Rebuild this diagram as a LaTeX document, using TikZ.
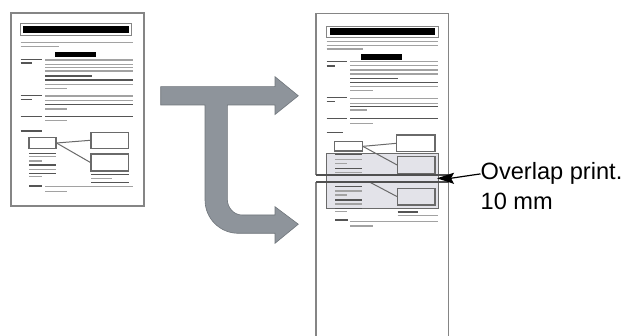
\documentclass[tikz,border=0pt]{standalone}
\usepackage{fontspec}
\setmainfont{Liberation Sans}
\usetikzlibrary{arrows.meta}
\definecolor{OPArrow}{HTML}{8E949B}
\definecolor{OPArrowEdge}{HTML}{6F757B}
\definecolor{OPSheet}{HTML}{858585}
\definecolor{OPCut}{HTML}{505050}
\definecolor{OPLine}{HTML}{A2A2A2}
\definecolor{OPDark}{HTML}{555555}
\definecolor{OPBand}{HTML}{E3E3E9}
\definecolor{OPBox}{HTML}{6A6A6A}

\begin{document}
\begin{tikzpicture}[x=1pt,y=-1pt,
  sheet/.style={draw=OPSheet,line width=1.4pt},
  cut/.style={draw=OPCut,line width=1.6pt},
  txt/.style={draw=OPLine,line width=1.5pt},
  txtdark/.style={draw=OPDark,line width=1.5pt},
  minibox/.style={draw=OPBox,line width=1.1pt,inner sep=0pt,rectangle},
  minilink/.style={draw=OPBox,line width=1pt},
  olapfont/.style={inner sep=0pt,anchor=base west,font=\fontsize{23.6}{30}\selectfont}]
\path[use as bounding box] (0,0) rectangle (626,336);
\fill[white] (0,0) rectangle (626,336);
% original page
\fill[white] (11,13) rectangle (144,206);
\draw[sheet] (11,13) rectangle (144,206);
\draw[draw=OPSheet,line width=0.9pt] (20.7,23.3) rectangle (131.7,35);
\fill[black] (23.3,26) rectangle (128.7,33.3);
\draw[txt] (20.7,42.7) -- (132.7,42.7) (20.7,46.7) -- (59.3,46.7);
\fill[black] (55,52.3) rectangle (96,56.7);
\draw[txtdark] (20.7,59.3) -- (41.7,59.3) (20.7,63) -- (32,63);
\draw[txt] (45,60) -- (132.7,60) (45,64.3) -- (132.7,64.3) (45,67.7) -- (132.7,67.7) (45,71) -- (132.7,71) (45,84.3) -- (132.7,84.3) (45,88.3) -- (66.7,88.3);
\draw[txtdark] (45,76) -- (91.7,76) (45,80) -- (132.7,80);
\draw[txtdark] (20.7,95.7) -- (41.7,95.7) (20.7,99.3) -- (32,99.3);
\draw[txt] (45,96) -- (132.7,96) (45,100.7) -- (132.7,100.7) (45,109) -- (66.7,109);
\draw[txtdark] (45,104.7) -- (132.7,104.7);
\draw[txtdark] (20.7,116.7) -- (41.7,116.7) (45,116.7) -- (132.7,116.7);
\draw[txt] (45,120.7) -- (66.7,120.7);
\draw[txtdark] (20.7,131) -- (41.7,131);
\node[minibox,minimum width=27pt,minimum height=10.6pt] (lbox) at (42.5,143) {};
\node[minibox,minimum width=37.7pt,minimum height=16pt] (ltop) at (109.85,140.3) {};
\node[minibox,minimum width=37.7pt,minimum height=17pt] (lbot) at (109.85,162.5) {};
\draw[minilink] (lbox.east) -- (ltop.west);
\draw[minilink] (lbox.east) -- (lbot.west);
\draw[txtdark] (29,153.3) -- (56,153.3) (29,165) -- (56,165) (29,173.3) -- (56,173.3);
\draw[txt] (29,156.7) -- (56,156.7) (29,161) -- (41.7,161) (29,169.3) -- (56,169.3) (29,176.7) -- (41.7,176.7);
\draw[txtdark] (91,174.3) -- (128.7,174.3) (91,182.3) -- (128.7,182.3);
\draw[txt] (91,178.3) -- (111.7,178.3);
\draw[txtdark] (29,186) -- (41.7,186);
\draw[txt] (45,186.7) -- (132.7,186.7) (45,191.7) -- (66.7,191.7);
% split arrow
\draw[fill=OPArrow,draw=OPArrowEdge,line width=0.6pt] (160.7,86.7) -- (275,86.7) -- (275,76.7) -- (298.3,95.8) -- (275,114.5) -- (275,105) -- (227.3,105) -- (227.3,199) .. controls (227.3,207.8) and (233.9,215) .. (242,215) -- (275,215) -- (275,206.7) -- (298.3,224.2) -- (275,243.3) -- (275,233.3) -- (238.3,233.3) .. controls (219.9,233.3) and (205,218.4) .. (205,200) -- (205,105) -- (160.7,105) -- cycle;
% printed sheets
\fill[white] (316,13.3) rectangle (448.7,175);
\fill[white] (316,182.3) rectangle (448.7,337);
\draw[draw=OPSheet,line width=0.9pt] (326.7,26) rectangle (438,37);
\fill[black] (330,28) rectangle (434.7,35);
\draw[txt] (326.7,41.7) -- (438.3,41.7) (326.7,45.7) -- (438.3,45.7) (326.7,49) -- (363,49);
\fill[black] (360.7,54) rectangle (402.3,60);
\draw[txtdark] (326.7,61.7) -- (347.3,61.7) (326.7,66) -- (335,66);
\draw[txt] (350,61.7) -- (438.3,61.7) (350,65.7) -- (438.3,65.7) (350,70) -- (438.3,70) (350,74) -- (438.3,74) (350,86.7) -- (438.3,86.7) (350,90.7) -- (373.3,90.7);
\draw[txtdark] (350,78.3) -- (398.3,78.3) (350,82.3) -- (438.3,82.3);
\draw[txtdark] (326.7,97.7) -- (347.3,97.7) (326.7,101.7) -- (335,101.7);
\draw[txt] (350,98.3) -- (438.3,98.3) (350,103.3) -- (438.3,103.3) (350,110) -- (366.7,110);
\draw[txtdark] (350,106.7) -- (438.3,106.7);
\draw[txtdark] (326.7,118.3) -- (347.3,118.3) (350,118.3) -- (438.3,118.3);
\draw[txt] (350,123.3) -- (373.3,123.3);
\draw[txtdark] (326.7,132.3) -- (343,132.3);
\draw[fill=OPBand,draw=OPBox,line width=1.1pt] (326.7,153.3) rectangle (438.3,208.3);
\node[minibox,fill=white,minimum width=28pt,minimum height=9.3pt] (rbox) at (348.3,146.35) {};
\node[minibox,fill=white,minimum width=38.3pt,minimum height=16.7pt] (rtop) at (415.85,143.35) {};
\node[minibox,minimum width=37.3pt,minimum height=16.6pt] (rmid) at (416.35,165) {};
\node[minibox,minimum width=37.3pt,minimum height=16.7pt] (rlow) at (416.35,196.65) {};
\coordinate (rcut) at (370,182.3);
\draw[minilink] (rbox.east) -- (rtop.west);
\draw[minilink] (rbox.east) -- (rmid.west);
\draw[minilink] (rcut) -- (rlow.west);
\draw[txtdark] (335,154.3) -- (362,154.3) (335,168.3) -- (362,168.3);
\draw[txt] (335,159.3) -- (362,159.3) (335,163.3) -- (347,163.3) (335,172.7) -- (362,172.7);
\draw[txtdark] (335,186.7) -- (362,186.7) (335,200) -- (362,200) (335,208.3) -- (362,208.3);
\draw[txt] (335,191) -- (362,191) (335,195) -- (347,195) (335,204) -- (362,204) (335,211.7) -- (347,211.7);
\draw[txtdark] (397.5,212) -- (418.3,212);
\draw[txt] (397.5,215.7) -- (438.3,215.7);
\draw[txtdark] (335,220) -- (348,220);
\draw[txt] (350,221.7) -- (438.3,221.7) (350,226) -- (373.3,226);
\draw[sheet] (316,175) -- (316,13.3) -- (448.7,13.3) -- (448.7,175);
\draw[sheet] (316,337) -- (316,182.3) -- (448.7,182.3) -- (448.7,337);
\draw[cut] (316,175) -- (448.7,175) (316,182.3) -- (448.7,182.3);
% overlap label
\node[olapfont] (olapa) at (480.5,180) {Overlap print.};
\node[olapfont] (olapb) at (480.5,210) {10 mm};
\coordinate (olaptip) at (437,178.3);
\draw[line width=1.2pt,-{Stealth[length=17pt,width=11pt,inset=3pt]}] (olapa.west) .. controls +(-14,2) and +(14,0) .. (olaptip);
\end{tikzpicture}
\end{document}
